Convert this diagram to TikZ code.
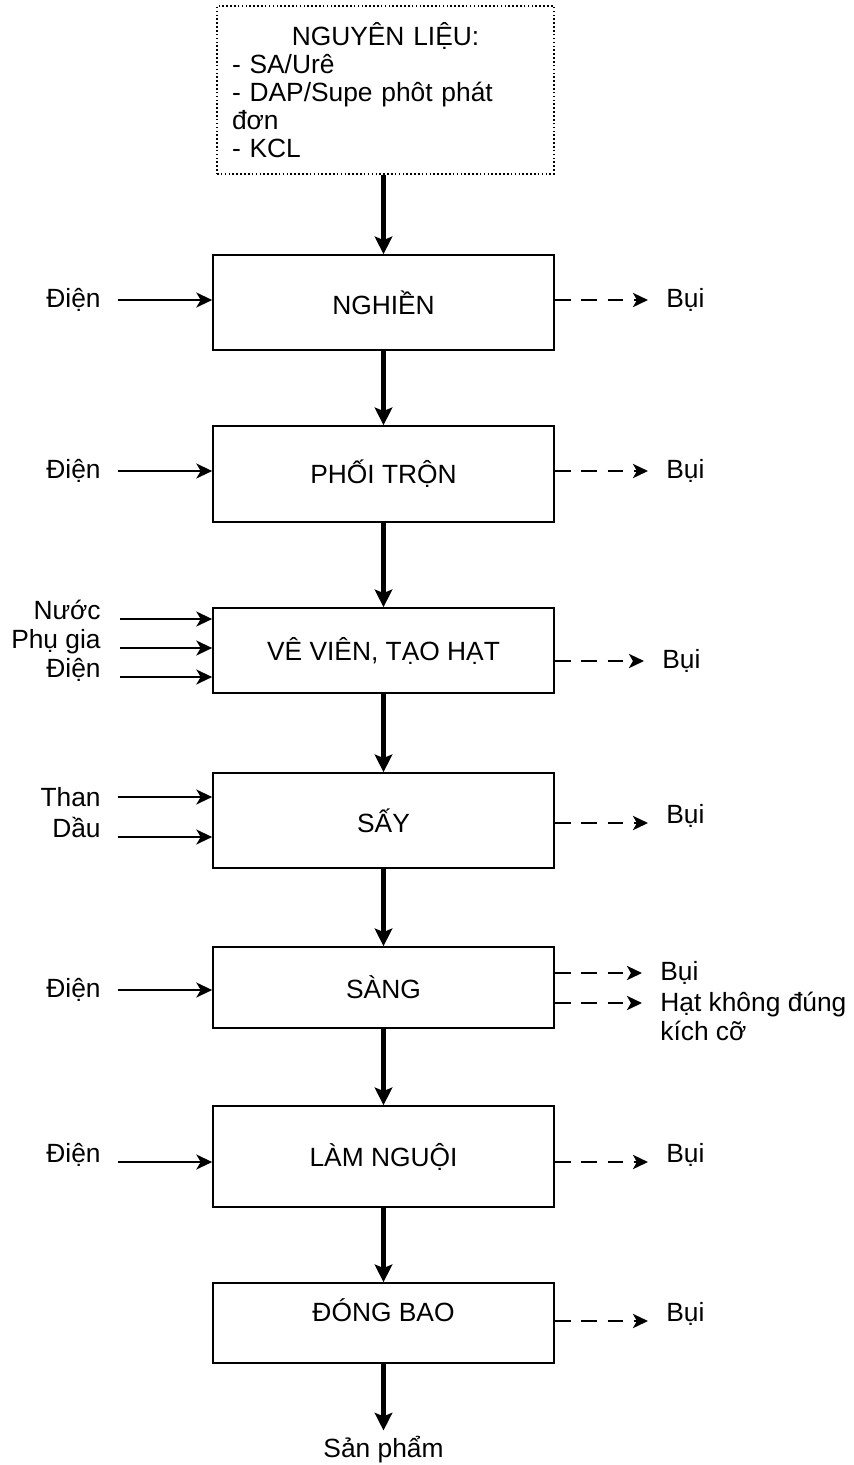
\documentclass[tikz,border=0pt]{standalone}
\usepackage{fontspec}
\setmainfont{Liberation Sans}
\usetikzlibrary{arrows.meta, calc}
\tikzset{
    stage/.style={rectangle, draw=black, line width=1pt, minimum width=6.82cm, inner sep=2pt, align=center},
    inlbl/.style={inner sep=0pt, anchor=east},
    outlbl/.style={inner sep=0pt, anchor=west},
    mainarrow/.style={-{Stealth[length=10pt, width=10pt, inset=2pt]}, line width=2.6pt},
    inarrow/.style={-{Stealth[length=9pt, width=8.5pt, inset=2.5pt]}, line width=1.3pt},
    outarrow/.style={-{Stealth[length=8.5pt, width=8pt, inset=2.2pt]}, line width=1.6pt, dash pattern=on 9pt off 6pt, shorten >=0.36cm},
}
\begin{document}
\begin{tikzpicture}[x=0.02cm, y=-0.02cm, font=\fontsize{15}{16}\selectfont]
    \useasboundingbox (0,0) rectangle (854,1465);
    % raw materials
    \node[draw, line width=0.9pt, dash pattern=on 0.9pt off 1.3pt, minimum height=3.36cm, text width=6.14cm, inner xsep=0.3cm, align=left] (raw) at (385.5,90)
        {\makebox[6.14cm]{NGUYÊN LIỆU:}\\- SA/Urê\\- DAP/Supe phôt phát\\đơn\\- KCL};
    % process stages
    \node[stage, minimum height=1.9cm] (nghien) at (383.5,302.5) {NGHIỀN};
    \node[stage, minimum height=1.92cm] (phoi) at (383.5,474) {PHỐI TRỘN};
    \node[stage, minimum height=1.7cm] (vien) at (383.5,650.5) {VÊ VIÊN, TẠO HẠT};
    \node[stage, minimum height=1.9cm] (say) at (383.5,820.5) {SẤY};
    \node[stage, minimum height=1.62cm] (sang) at (383.5,987.5) {SÀNG};
    \node[stage, minimum height=2.02cm] (nguoi) at (383.5,1156.5) {LÀM NGUỘI};
    \node[stage, minimum height=1.6cm, text depth=0.52cm] (bao) at (383.5,1323) {ĐÓNG BAO};
    \node (sanpham) at (383.5,1450) {Sản phẩm};
    \foreach \a/\b in {raw/nghien, nghien/phoi, phoi/vien, vien/say, say/sang, sang/nguoi, nguoi/bao, bao/sanpham}
        \draw[mainarrow] (\b.north |- \a.south) -- (\b.north);
    % inputs
    \node[inlbl] (dien1) at (101,300) {Điện};
    \node[inlbl] (dien2) at (101,471) {Điện};
    \node[inlbl, anchor=base east] (nuoc) at (101,619) {Nước};
    \node[inlbl, anchor=base east] (phugia) at (101,648) {Phụ gia};
    \node[inlbl, anchor=base east] (dien3) at (101,677) {Điện};
    \node[inlbl] (than) at (101,797) {Than};
    \node[inlbl, anchor=base east] (dau) at (101,837) {Dầu};
    \node[inlbl] (dien4) at (101,990) {Điện};
    \node[inlbl, anchor=base east] (dien5) at (101,1162) {Điện};
    \draw[inarrow] ([xshift=0.34cm]dien1.east) -- (dien1.east -| nghien.west);
    \draw[inarrow] ([xshift=0.34cm]dien2.east) -- (dien2.east -| phoi.west);
    \draw[inarrow] ([xshift=0.38cm]nuoc.base east) -- (nuoc.base east -| vien.west);
    \draw[inarrow] ([xshift=0.38cm]phugia.base east) -- (phugia.base east -| vien.west);
    \draw[inarrow] ([xshift=0.38cm]dien3.base east) -- (dien3.base east -| vien.west);
    \draw[inarrow] ([xshift=0.34cm]than.east) -- (than.east -| say.west);
    \draw[inarrow] ([xshift=0.34cm]dau.base east) -- (dau.base east -| say.west);
    \draw[inarrow] ([xshift=0.34cm]dien4.east) -- (dien4.east -| sang.west);
    \draw[inarrow] ([xshift=0.34cm]dien5.base east) -- (dien5.base east -| nguoi.west);
    % outputs
    \node[outlbl] (bui1) at (666,300) {Bụi};
    \node[outlbl] (bui2) at (666,471) {Bụi};
    \node[outlbl] (bui3) at (662,661) {Bụi};
    \node[outlbl, anchor=base west] (bui4) at (666,823) {Bụi};
    \node[outlbl] (bui5) at (660,973) {Bụi};
    \node[outlbl, anchor=base west, align=left] (hat) at (660,1040) {Hạt không đúng\\kích cỡ};
    \node[outlbl, anchor=base west] (bui6) at (666,1162) {Bụi};
    \node[outlbl, anchor=base west] (bui7) at (666,1321) {Bụi};
    \draw[outarrow] (bui1.west -| nghien.east) -- (bui1.west);
    \draw[outarrow] (bui2.west -| phoi.east) -- (bui2.west);
    \draw[outarrow] (bui3.west -| vien.east) -- (bui3.west);
    \draw[outarrow] (bui4.base west -| say.east) -- (bui4.base west);
    \draw[outarrow] (bui5.west -| sang.east) -- (bui5.west);
    \draw[outarrow] ($(hat.base west -| sang.east)+(0,-37)$) -- ($(hat.base west)+(0,-37)$);
    \draw[outarrow] (bui6.base west -| nguoi.east) -- (bui6.base west);
    \draw[outarrow] (bui7.base west -| bao.east) -- (bui7.base west);
\end{tikzpicture}
\end{document}
